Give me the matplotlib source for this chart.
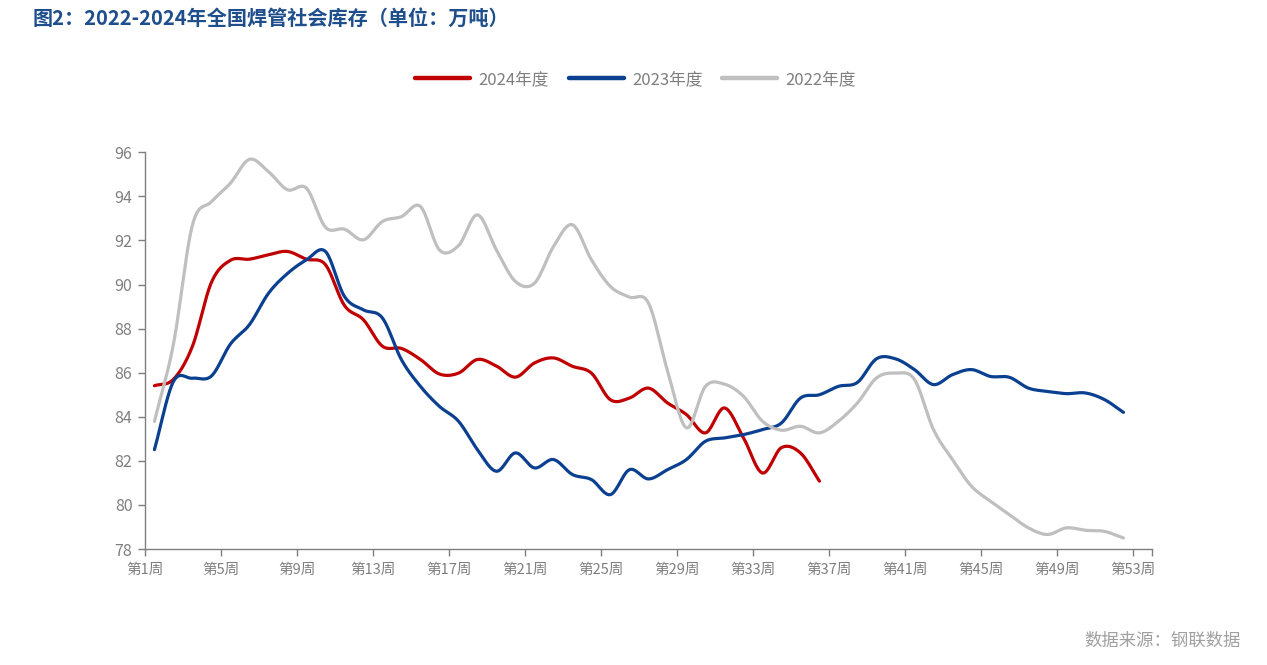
import numpy as np
import matplotlib
matplotlib.use("Agg")
import matplotlib.pyplot as plt

plt.rcParams['font.family'] = ['Noto Sans CJK SC', 'DejaVu Sans']

# 周次与库存数据（万吨）
weeks_2024 = np.arange(1, 37)
stock_2024 = [85.41, 85.7, 87.2, 90.1, 91.1, 91.15, 91.35, 91.5, 91.15, 90.9,
              89.05, 88.4, 87.2, 87.1, 86.6, 85.94, 85.98, 86.6, 86.3, 85.8,
              86.44, 86.67, 86.29, 85.98, 84.77, 84.85, 85.3, 84.63, 84.1, 83.27,
              84.4, 83.05, 81.45, 82.6, 82.36, 81.08]

weeks_2023 = np.arange(1, 53)
stock_2023 = [82.51, 85.6, 85.75, 85.85, 87.3, 88.18, 89.6, 90.5, 91.12, 91.5,
              89.46, 88.85, 88.48, 86.59, 85.38, 84.47, 83.8, 82.51, 81.53, 82.36,
              81.68, 82.06, 81.38, 81.15, 80.47, 81.6, 81.18, 81.6, 82.06, 82.89,
              83.04, 83.19, 83.42, 83.72, 84.85, 85.0, 85.38, 85.56, 86.63, 86.63,
              86.14, 85.46, 85.91, 86.14, 85.83, 85.79, 85.3, 85.15, 85.05, 85.08,
              84.78, 84.2]

weeks_2022 = np.arange(1, 53)
stock_2022 = [83.79, 87.3, 92.7, 93.76, 94.6, 95.68, 95.12, 94.3, 94.37, 92.6,
              92.51, 92.03, 92.86, 93.08, 93.54, 91.57, 91.76, 93.16, 91.57, 90.14,
              90.06, 91.72, 92.71, 91.12, 89.91, 89.43, 89.16, 86.1, 83.5, 85.38,
              85.48, 84.93, 83.8, 83.39, 83.57, 83.27, 83.8, 84.63, 85.76, 85.98,
              85.69, 83.42, 82.06, 80.85, 80.17, 79.56, 78.96, 78.66, 78.96, 78.85,
              78.8, 78.5]

tick_weeks = list(range(1, 54, 4))
tick_labels = ['第%d周' % w for w in tick_weeks]


def smooth(x, y, n=20):
    # 平滑曲线（类似Excel平滑线），经过每个数据点
    x = np.asarray(x, float)
    y = np.asarray(y, float)
    px = np.concatenate([[2 * x[0] - x[1]], x, [2 * x[-1] - x[-2]]])
    py = np.concatenate([[2 * y[0] - y[1]], y, [2 * y[-1] - y[-2]]])
    xs, ys = [], []
    t = np.linspace(0, 1, n, endpoint=False)
    for i in range(1, len(px) - 2):
        p0, p1, p2, p3 = py[i - 1], py[i], py[i + 1], py[i + 2]
        b1 = p1 + (p2 - p0) / 6
        b2 = p2 - (p3 - p1) / 6
        q0, q1, q2, q3 = px[i - 1], px[i], px[i + 1], px[i + 2]
        c1 = q1 + (q2 - q0) / 6
        c2 = q2 - (q3 - q1) / 6
        ys.append((1 - t) ** 3 * p1 + 3 * (1 - t) ** 2 * t * b1 + 3 * (1 - t) * t ** 2 * b2 + t ** 3 * p2)
        xs.append((1 - t) ** 3 * q1 + 3 * (1 - t) ** 2 * t * c1 + 3 * (1 - t) * t ** 2 * c2 + t ** 3 * q2)
    xs.append([x[-1]])
    ys.append([y[-1]])
    return np.concatenate(xs), np.concatenate(ys)


fig = plt.figure(figsize=(12.67, 6.65), dpi=100)
ax = fig.add_axes([0.1144, 0.1744, 0.7948, 0.5966])

series = [
    (weeks_2024, stock_2024, '#C00000', '2024年度'),
    (weeks_2023, stock_2023, '#0B3F8F', '2023年度'),
    (weeks_2022, stock_2022, '#BFBFBF', '2022年度'),
]
for w, s, c, lab in series:
    sx, sy = smooth(w, s)
    ax.plot(sx, sy, color=c, lw=2.3, label=lab, solid_capstyle='round', zorder=3)

ax.set_xlim(0.5, 53.5)
ax.set_ylim(78, 96)
ax.set_yticks(range(78, 97, 2))
ax.set_xticks([w - 0.5 for w in tick_weeks] + [53.5])
ax.set_xticklabels(tick_labels + [''])

for side in ['top', 'right']:
    ax.spines[side].set_visible(False)
for side in ['left', 'bottom']:
    ax.spines[side].set_color('#7F7F7F')
    ax.spines[side].set_linewidth(1.0)
ax.tick_params(axis='both', colors='#7F7F7F', labelcolor='#7F7F7F',
               length=5, width=1.0, direction='out')
ax.tick_params(axis='x', labelsize=10.5, pad=5)
ax.tick_params(axis='y', labelsize=11.5, pad=4)

leg = ax.legend(loc='center', bbox_to_anchor=(0.487, 1.184), ncol=3, frameon=False,
                fontsize=12, handlelength=3.3, columnspacing=1.2, handletextpad=0.5)
for line in leg.get_lines():
    line.set_linewidth(3.2)
for txt in leg.get_texts():
    txt.set_color('#7F7F7F')

fig.text(0.026, 0.972, '图2：2022-2024年全国焊管社会库存（单位：万吨）', fontsize=14.5,
         fontweight='bold', color='#1F4E8C', va='center', ha='left')
fig.text(0.979, 0.036, '数据来源：钢联数据', fontsize=12.5, color='#A0A0A0',
         va='center', ha='right')

fig.savefig('out.png', dpi=100)
